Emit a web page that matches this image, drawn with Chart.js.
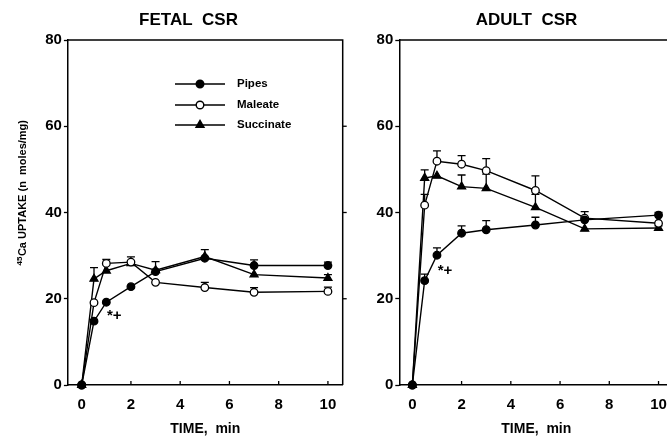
<!DOCTYPE html>
<html><head><meta charset="utf-8">
<script src="https://cdn.jsdelivr.net/npm/chart.js@4/dist/chart.umd.min.js"></script>
<style>
html,body{margin:0;padding:0;background:#fff;overflow:hidden;width:667px;height:438px;position:relative}
#c1{position:absolute;left:0;top:0}
#c2{position:absolute;left:340px;top:0}
</style></head>
<body>
<canvas id="c1" width="350" height="438"></canvas>
<canvas id="c2" width="340" height="438"></canvas>
<script>
// ---- data ----
const time = [0, 0.5, 1, 2, 3, 5, 7, 10];
const xTicks = [0, 2, 4, 6, 8, 10];
const yTicks = [0, 20, 40, 60, 80];
const seriesNames = ['Pipes', 'Maleate', 'Succinate'];
const panelTitles = ['FETAL  CSR', 'ADULT  CSR'];

const fetalPipes     = [0, 14.8, 19.2, 22.8, 26.3, 29.4, 27.7, 27.7];
const fetalPipesSE   = [0, 0, 0, 0, 0, 2.0, 1.3, 0.8];
const fetalMaleate   = [0, 19.1, 28.2, 28.5, 23.8, 22.6, 21.5, 21.7];
const fetalMaleateSE = [0, 0, 0.9, 0, 0, 1.2, 1.1, 1.0];
const fetalSucc      = [0, 24.6, 26.5, 28.2, 26.6, 29.8, 25.6, 24.8];
const fetalSuccSE    = [0, 2.6, 0, 1.5, 2.0, 0, 0, 0.8];

const adultPipes     = [0, 24.2, 30.1, 35.2, 36.0, 37.1, 38.3, 39.4];
const adultPipesSE   = [0, 1.5, 1.7, 1.7, 2.1, 1.8, 0, 0.6];
const adultMaleate   = [0, 41.7, 51.9, 51.2, 49.7, 45.1, 38.7, 37.5];
const adultMaleateSE = [0, 2.5, 2.4, 2.0, 2.8, 3.4, 1.5, 0];
const adultSucc      = [0, 48.0, 48.5, 46.0, 45.6, 41.2, 36.2, 36.4];
const adultSuccSE    = [0, 1.9, 0, 2.7, 3.3, 3.0, 0, 0.5];

const FONT = "'Liberation Sans', Arial, Helvetica, sans-serif";

const styles = [
  {pointStyle:'circle', radius:3.8, bg:'#000'},
  {pointStyle:'circle', radius:3.8, bg:'#fff'},
  {pointStyle:'triangle', radius:4.6, bg:'#000'}
];

function makeDatasets(vals, ses){
  return vals.map((v,k)=>({
    label: seriesNames[k],
    data: time.map((t,i)=>({x:t, y:v[i]})),
    se: ses[k],
    borderColor:'#000', borderWidth:1.4,
    pointStyle: styles[k].pointStyle,
    pointRadius: styles[k].radius,
    pointBackgroundColor: styles[k].bg,
    pointBorderColor:'#000', pointBorderWidth:1.3,
    tension:0, clip:10
  }));
}

const decor = {
  id:'decor',
  beforeDatasetsDraw(chart){
    const ctx = chart.ctx, xs = chart.scales.x, ys = chart.scales.y;
    ctx.save();
    ctx.strokeStyle='#000'; ctx.lineWidth=1.3;
    chart.data.datasets.forEach(ds=>{
      ds.data.forEach((p,i)=>{
        const se = ds.se[i];
        if(!se) return;
        const x = xs.getPixelForValue(p.x);
        const y0 = ys.getPixelForValue(p.y), y1 = ys.getPixelForValue(p.y+se);
        ctx.beginPath(); ctx.moveTo(x,y0); ctx.lineTo(x,y1);
        ctx.moveTo(x-4,y1); ctx.lineTo(x+4,y1); ctx.stroke();
      });
    });
    ctx.restore();
  },
  afterDraw(chart, args, o){
    const ctx = chart.ctx, a = chart.chartArea, xs = chart.scales.x, ys = chart.scales.y;
    ctx.save();
    ctx.strokeStyle='#000'; ctx.fillStyle='#000'; ctx.lineWidth=1.5;
    // frame
    ctx.beginPath();
    ctx.moveTo(a.left, a.top); ctx.lineTo(a.right, a.top); ctx.lineTo(a.right, a.bottom);
    ctx.stroke();
    // inward x ticks
    ctx.lineWidth=1.3;
    xTicks.forEach(v=>{
      const x = xs.getPixelForValue(v);
      ctx.beginPath(); ctx.moveTo(x,a.bottom); ctx.lineTo(x,a.bottom-4); ctx.stroke();
    });
    // right side ticks
    yTicks.slice(1,-1).forEach(v=>{
      const y = ys.getPixelForValue(v);
      ctx.beginPath(); ctx.moveTo(a.right,y); ctx.lineTo(a.right+4,y); ctx.stroke();
    });
    // panel title
    ctx.font = 'bold 17px '+FONT; ctx.textAlign='center'; ctx.textBaseline='middle';
    ctx.fillText(o.title, o.titleX, 20);
    // annotation near pipes at t=1
    const pd = chart.data.datasets[0].data[2];
    ctx.font = 'bold 15px '+FONT;
    ctx.fillText('*+', xs.getPixelForValue(pd.x)+o.annDx, ys.getPixelForValue(pd.y)+o.annDy);
    if(o.legend){
      const rows=[84,105,125];
      chart.data.datasets.forEach((ds,k)=>{
        const y = rows[k];
        ctx.lineWidth=1.4;
        ctx.beginPath(); ctx.moveTo(175,y); ctx.lineTo(225,y); ctx.stroke();
        ctx.fillStyle = ds.pointBackgroundColor; ctx.strokeStyle='#000';
        Chart.helpers.drawPoint(ctx,{pointStyle:ds.pointStyle, radius:ds.pointRadius, rotation:0, borderWidth:1.3}, 200, y);
        ctx.fillStyle='#000';
        ctx.font='bold 11.5px '+FONT; ctx.textAlign='left'; ctx.textBaseline='middle';
        ctx.fillText(ds.label, 237, y);
      });
    }
    if(o.yTitle){
      ctx.translate(23, 193); ctx.rotate(-Math.PI/2);
      ctx.textBaseline='middle'; ctx.textAlign='left';
      const main='Ca UPTAKE (n  moles/mg)';
      ctx.font='bold 8px '+FONT; const wSup = ctx.measureText('45').width;
      ctx.font='bold 11px '+FONT; const wMain = ctx.measureText(main).width;
      const start = -(wSup+wMain)/2;
      ctx.font='bold 8px '+FONT; ctx.fillText('45', start, -3);
      ctx.font='bold 11px '+FONT; ctx.fillText(main, start+wSup+0.5, 0);
    }
    ctx.restore();
  }
};

function makeChart(id, vals, ses, xmin, yWidth, padRight, o){
  return new Chart(document.getElementById(id), {
    type:'line',
    data:{datasets: makeDatasets(vals, ses)},
    plugins:[decor],
    options:{
      responsive:false, animation:false, events:[],
      layout:{padding:{top:40, right:padRight, bottom:0, left:0}},
      plugins:{legend:{display:false}, title:{display:false}, tooltip:{enabled:false}, decor:o},
      scales:{
        x:{type:'linear', min:xmin, max:10.6,
           afterBuildTicks:s=>{s.ticks = xTicks.map(v=>({value:v}));},
           afterFit:s=>{s.height=53;},
           grid:{drawOnChartArea:false, drawTicks:false},
           border:{color:'#000', width:1.5},
           ticks:{color:'#000', padding:11, font:{family:FONT, size:15, weight:'bold'}},
           title:{display:true, text:'TIME,  min', color:'#000', padding:{top:0,bottom:0}, font:{family:FONT, size:14, weight:'bold'}}
        },
        y:{min:0, max:80,
           afterBuildTicks:s=>{s.ticks = yTicks.map(v=>({value:v}));},
           afterFit:s=>{s.width=yWidth;},
           grid:{drawOnChartArea:false, tickLength:4, tickColor:'#000', tickWidth:1.3},
           border:{color:'#000', width:1.5},
           ticks:{color:'#000', padding:2, font:{family:FONT, size:15, weight:'bold'}}
        }
      }
    }
  });
}

makeChart('c1', [fetalPipes, fetalMaleate, fetalSucc], [fetalPipesSE, fetalMaleateSE, fetalSuccSE],
  -0.56, 67.9, 7.3, {title:panelTitles[0], titleX:188.5, legend:true, yTitle:true, annDx:8, annDy:14});
makeChart('c2', [adultPipes, adultMaleate, adultSucc], [adultPipesSE, adultMaleateSE, adultSuccSE],
  -0.53, 59.3, 6.7, {title:panelTitles[1], titleX:186.5, legend:false, yTitle:false, annDx:8, annDy:16});
</script>
</body></html>
